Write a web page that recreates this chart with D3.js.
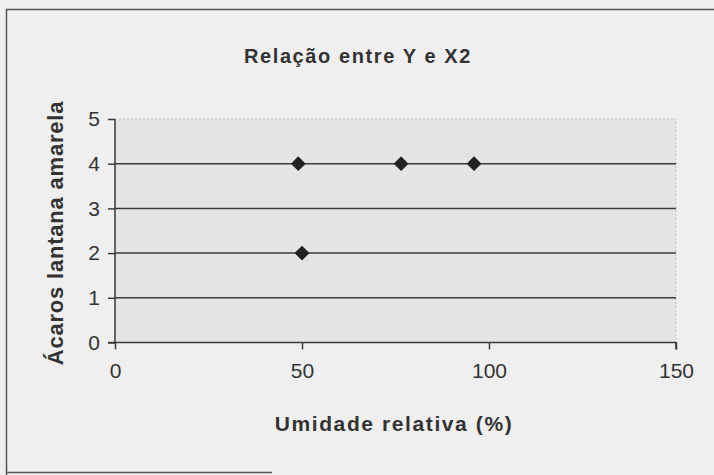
<!DOCTYPE html>
<html><head><meta charset="utf-8">
<script src="https://cdn.jsdelivr.net/npm/d3@7"></script>
<style>html,body{margin:0;padding:0;background:#efefef;}svg{display:block;}</style>
</head><body>
<svg id="chart" width="714" height="475"></svg>
<script>
const title = "Relação entre Y e X2";
const xTitle = "Umidade relativa (%)";
const yTitle = "Ácaros lantana amarela";
const xValues = [49, 76.5, 96, 50];
const yValues = [4, 4, 4, 2];
const xTicks = [0, 50, 100, 150];
const yTicks = [0, 1, 2, 3, 4, 5];

const svg = d3.select("#chart");
const W = 714, H = 475;
const m = {left:115, right:714-676, top:119, bottom:475-342.5};
const x = d3.scaleLinear().domain([0,150]).range([m.left, W-m.right]);
const y = d3.scaleLinear().domain([0,5]).range([H-m.bottom, m.top]);
const FONT = "Liberation Sans, Arial, sans-serif";

svg.append("rect").attr("width",W).attr("height",H).attr("fill","#efefef");

// frame
svg.append("path")
  .attr("d", `M6.5,475 L6.5,9.5 L714,9.5 M6.5,472.5 L272,472.5`)
  .attr("fill","none").attr("stroke","#555").attr("stroke-width",1.5);

// plot area
svg.append("rect")
  .attr("x", x(0)).attr("y", y(5))
  .attr("width", x(150)-x(0)).attr("height", y(0)-y(5))
  .attr("fill","#e4e4e4").attr("stroke","#c9c9c9").attr("stroke-dasharray","2,2");

// gridlines
svg.append("g").selectAll("line").data(yTicks.filter(d=>d>0 && d<5)).join("line")
  .attr("x1", x(0)).attr("x2", x(150))
  .attr("y1", d=>y(d)).attr("y2", d=>y(d))
  .attr("stroke","#3a3a3a").attr("stroke-width",1.5);

// axes
const xAxis = svg.append("g").attr("transform",`translate(0,${y(0)})`)
  .call(d3.axisBottom(x).tickValues(xTicks).tickSize(7).tickPadding(14).tickFormat(d3.format("d")));
const yAxis = svg.append("g").attr("transform",`translate(${x(0)},0)`)
  .call(d3.axisLeft(y).tickValues(yTicks).tickSize(7).tickPadding(8).tickFormat(d3.format("d")));
[xAxis,yAxis].forEach(a=>{
  a.select(".domain").attr("stroke","#3a3a3a").attr("stroke-width",1.5);
  a.selectAll(".tick line").attr("stroke","#3a3a3a").attr("stroke-width",1.5);
  a.selectAll("text").attr("font-family",FONT).attr("font-size",21).attr("fill","#333");
});
xAxis.select(".domain").attr("d", `M${x(0)-7},0H${x(150)}V7`);
yAxis.select(".domain").attr("d", `M0,${y(5)}V${y(0)}`);

// points (diamonds)
svg.append("g").selectAll("path").data(xValues.map((v,i)=>({x:v,y:yValues[i]}))).join("path")
  .attr("d", d3.symbol().type(d3.symbolSquare).size(110)())
  .attr("transform", d=>`translate(${x(d.x)},${y(d.y)}) rotate(45)`)
  .attr("fill","#222");

// titles
svg.append("text").attr("x",358).attr("y",63).attr("text-anchor","middle")
  .attr("font-family",FONT).attr("font-size",20).attr("font-weight","bold")
  .attr("letter-spacing",1.6).attr("fill","#333").text(title);
svg.append("text").attr("x",394).attr("y",431).attr("text-anchor","middle")
  .attr("font-family",FONT).attr("font-size",21).attr("font-weight","bold")
  .attr("letter-spacing",1.6).attr("fill","#333").text(xTitle);
svg.append("text").attr("transform","translate(63,233) rotate(-90)").attr("text-anchor","middle")
  .attr("font-family",FONT).attr("font-size",22).attr("font-weight","bold")
  .attr("letter-spacing",0.8).attr("fill","#333").text(yTitle);
</script>
</body></html>
